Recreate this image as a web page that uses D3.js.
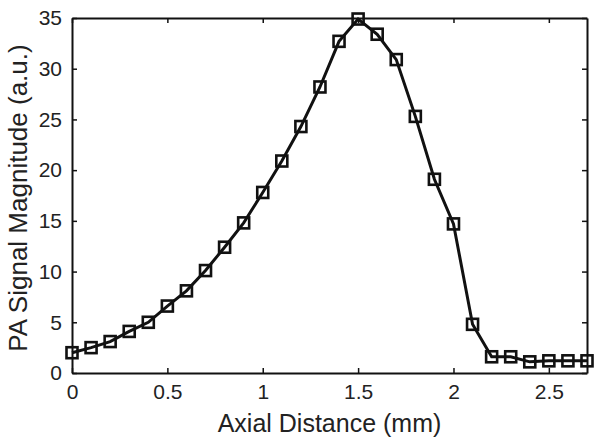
<!DOCTYPE html>
<html>
<head>
<meta charset="utf-8">
<script src="https://cdn.jsdelivr.net/npm/d3@7"></script>
<style>
  body{margin:0;background:#fff;}
  svg text{font-family:"Liberation Sans",Arial,sans-serif;fill:#222;}
</style>
</head>
<body>
<div class="chart"></div>
<script>
// data
var xs = [0,0.1,0.2,0.3,0.4,0.5,0.6,0.7,0.8,0.9,1.0,1.1,1.2,1.3,1.4,1.5,1.6,1.7,1.8,1.9,2.0,2.1,2.2,2.3,2.4,2.5,2.6,2.7];
var ys = [2.0,2.5,3.1,4.1,5.0,6.6,8.1,10.1,12.4,14.8,17.8,20.9,24.3,28.2,32.7,34.9,33.4,30.9,25.3,19.1,14.7,4.8,1.6,1.6,1.1,1.2,1.2,1.2];
var xTicks = [0,0.5,1,1.5,2,2.5];
var yTicks = [0,5,10,15,20,25,30,35];

var W = 601, H = 446;
var mLeft = 72, mRight = 587, mTop = 18, mBottom = 373;

var svg = d3.select(".chart").append("svg")
  .attr("width", W).attr("height", H);

var x = d3.scaleLinear().domain([0,2.7]).range([mLeft,mRight]);
var y = d3.scaleLinear().domain([0,35]).range([mBottom,mTop]);

// 坐标轴
svg.append("g")
  .attr("transform","translate(0,"+mBottom+")")
  .call(d3.axisBottom(x).tickValues(xTicks).tickSizeInner(-5).tickSizeOuter(0).tickPadding(11).tickFormat(d3.format("")))
  .call(function(g){ g.selectAll("text").attr("font-size","21px"); });

svg.append("g")
  .attr("transform","translate("+mLeft+",0)")
  .call(d3.axisLeft(y).tickValues(yTicks).tickSizeInner(-5).tickSizeOuter(0).tickPadding(10))
  .call(function(g){ g.selectAll("text").attr("font-size","21px"); });

svg.append("g")
  .attr("transform","translate(0,"+mTop+")")
  .call(d3.axisTop(x).tickValues(xTicks).tickSizeInner(-5).tickSizeOuter(0).tickFormat(""));

svg.append("g")
  .attr("transform","translate("+mRight+",0)")
  .call(d3.axisRight(y).tickValues(yTicks).tickSizeInner(-5).tickSizeOuter(0).tickFormat(""));

svg.selectAll(".domain").attr("stroke","#111").attr("stroke-width",2);
svg.selectAll(".tick line").attr("stroke","#111").attr("stroke-width",1.5);
svg.selectAll(".tick text").attr("fill","#222").attr("font-family","Liberation Sans, Arial, sans-serif");

// line
var pts = xs.map(function(d,i){ return [d, ys[i]]; });
svg.append("path")
  .datum(pts)
  .attr("fill","none")
  .attr("stroke","#111")
  .attr("stroke-width",3)
  .attr("d", d3.line().x(function(d){return x(d[0]);}).y(function(d){return y(d[1]);}));

// square markers
var s = 11;
svg.append("g").selectAll("rect")
  .data(pts).enter().append("rect")
  .attr("x", function(d){ return x(d[0]) - s/2; })
  .attr("y", function(d){ return y(d[1]) - s/2; })
  .attr("width", s).attr("height", s)
  .attr("fill","none")
  .attr("stroke","#111")
  .attr("stroke-width",2.6);

// labels
svg.append("text")
  .attr("x", (mLeft+mRight)/2).attr("y", 432)
  .attr("text-anchor","middle")
  .attr("font-size","25px")
  .text("Axial Distance (mm)");

svg.append("text")
  .attr("transform","translate(27,198) rotate(-90)")
  .attr("text-anchor","middle")
  .attr("font-size","26px")
  .text("PA Signal Magnitude (a.u.)");
</script>
</body>
</html>
